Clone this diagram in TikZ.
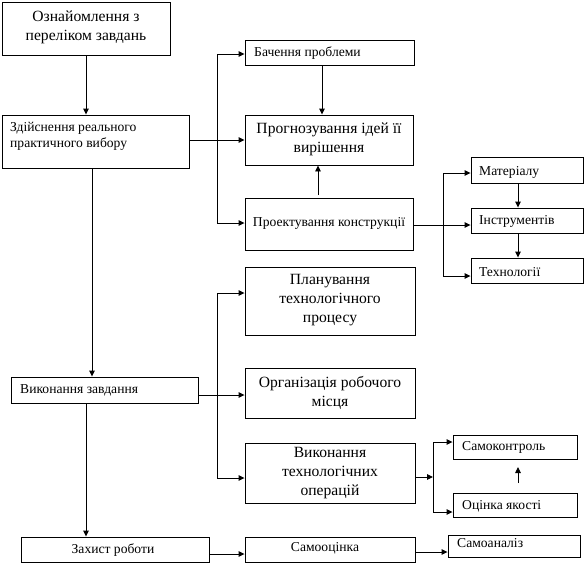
\documentclass[tikz,border=0pt]{standalone}
\usepackage{fontspec}
\setmainfont{Liberation Serif}
\usetikzlibrary{arrows.meta}
\tikzset{
  box/.style={draw, line width=0.9pt, inner sep=0pt, rectangle},
  small/.style={inner sep=0pt, font=\fontsize{13.6}{16.5}\selectfont, align=left},
  smallc/.style={inner sep=0pt, font=\fontsize{13.6}{16.5}\selectfont, align=center},
  large/.style={inner sep=0pt, font=\fontsize{15.6}{19}\selectfont, align=center},
  conn/.style={line width=0.9pt},
  arr/.style={line width=0.9pt, -{Triangle[length=6pt,width=5.5pt]}}
}
\begin{document}
\begin{tikzpicture}[x=1pt,y=-1pt]
\useasboundingbox (0,0) rectangle (586,568);
% boxes
\node[box, minimum width=168, minimum height=53] (n1) at (86,28.5) {};
\node[box, minimum width=187, minimum height=53] (n2) at (95.5,141.5) {};
\node[box, minimum width=169, minimum height=25] (n3) at (329.5,52.5) {};
\node[box, minimum width=168, minimum height=50] (n4) at (329,140) {};
\node[box, minimum width=168, minimum height=52] (n5) at (329,224) {};
\node[box, minimum width=112, minimum height=26] (n6) at (527,170) {};
\node[box, minimum width=112, minimum height=25] (n7) at (527,220.5) {};
\node[box, minimum width=112, minimum height=25] (n8) at (527,270.5) {};
\node[box, minimum width=170, minimum height=68] (n9) at (330,301) {};
\node[box, minimum width=170, minimum height=50] (n10) at (330,393) {};
\node[box, minimum width=170, minimum height=60] (n11) at (330,473) {};
\node[box, minimum width=124, minimum height=24] (n12) at (515,447) {};
\node[box, minimum width=124, minimum height=24] (n13) at (515,505) {};
\node[box, minimum width=170, minimum height=25] (n14) at (330,549.5) {};
\node[box, minimum width=132, minimum height=22] (n15) at (514,546) {};
\node[box, minimum width=187, minimum height=26] (n16) at (104.5,390) {};
\node[box, minimum width=188, minimum height=25] (n17) at (115,549.5) {};
% texts
\node[large] (t1) at (86,27) {Ознайомлення з\\переліком завдань};
\node[small, anchor=west] (t2) at (10,136.5) {Здійснення реального\\практичного вибору};
\node[small, anchor=west] (t3) at (254,53) {Бачення проблеми};
\node[large] (t4) at (329,139) {Прогнозування ідей її\\вирішення};
\node[smallc] (t5) at (329,223) {Проектування конструкції};
\node[small, anchor=west] (t6) at (479,172) {Матеріалу};
\node[small, anchor=west] (t7) at (479,221) {Інструментів};
\node[small, anchor=west] (t8) at (479,272) {Технології};
\node[large] (t9) at (330,300) {Планування\\технологічного\\процесу};
\node[large] (t10) at (330,393) {Організація робочого\\місця};
\node[large] (t11) at (330,473) {Виконання\\технологічних\\операцій};
\node[small, anchor=west] (t12) at (462,447) {Самоконтроль};
\node[small, anchor=west] (t13) at (462,506) {Оцінка якості};
\node[smallc] (t14) at (325,548) {Самооцінка};
\node[small, anchor=west] (t15) at (457,543) {Самоаналіз};
\node[small, anchor=west] (t16) at (20,390) {Виконання завдання};
\node[smallc] (t17) at (113,550) {Захист роботи};
% branch coordinates
\coordinate (bA1) at (217,54);
\coordinate (bA2) at (217,140);
\coordinate (bA3) at (217,223);
\coordinate (bB1) at (443,173);
\coordinate (bB2) at (443,225);
\coordinate (bB3) at (443,276);
\coordinate (bC1) at (217,293);
\coordinate (bC2) at (217,395);
\coordinate (bC3) at (217,478);
\coordinate (bD1) at (433,442);
\coordinate (bD2) at (433,477);
\coordinate (bD3) at (433,512);
\coordinate (u1a) at (318,195);
\coordinate (u2a) at (518,483);
\coordinate (u2b) at (518,467);
% main vertical flow
\draw[arr] (n1.south) -- (n1.south |- n2.north);
\draw[arr] (92,0 |- n2.south) -- (92,0 |- n16.north);
\draw[arr] (86,0 |- n16.south) -- (86,0 |- n17.north);
% branch A
\draw[conn] (bA1) -- (bA3);
\draw[arr] (n2.east |- bA2) -- (n4.west |- bA2);
\draw[arr] (bA1) -- (n3.west |- bA1);
\draw[arr] (bA3) -- (n5.west |- bA3);
\draw[arr] (322,0 |- n3.south) -- (322,0 |- n4.north);
\draw[arr] (u1a) -- (u1a |- n4.south);
% branch B
\draw[conn] (bB1) -- (bB3);
\draw[arr] (n5.east |- bB2) -- (n7.west |- bB2);
\draw[arr] (bB1) -- (n6.west |- bB1);
\draw[arr] (bB3) -- (n8.west |- bB3);
\draw[arr] (518,0 |- n6.south) -- (518,0 |- n7.north);
\draw[arr] (518,0 |- n7.south) -- (518,0 |- n8.north);
% branch C
\draw[conn] (bC1) -- (bC3);
\draw[arr] (n16.east |- bC2) -- (n10.west |- bC2);
\draw[arr] (bC1) -- (n9.west |- bC1);
\draw[arr] (bC3) -- (n11.west |- bC3);
% branch D
\draw[arr] (n11.east |- bD2) -- (bD2);
\draw[conn] (bD1) -- (bD3);
\draw[arr] (bD1) -- (n12.west |- bD1);
\draw[arr] (bD3) -- (n13.west |- bD3);
\draw[arr] (u2a) -- (u2b);
% bottom row
\draw[arr] (n17.east |- 0,554) -- (n14.west |- 0,554);
\draw[arr] (n14.east |- 0,552) -- (n15.west |- 0,552);
\end{tikzpicture}
\end{document}
